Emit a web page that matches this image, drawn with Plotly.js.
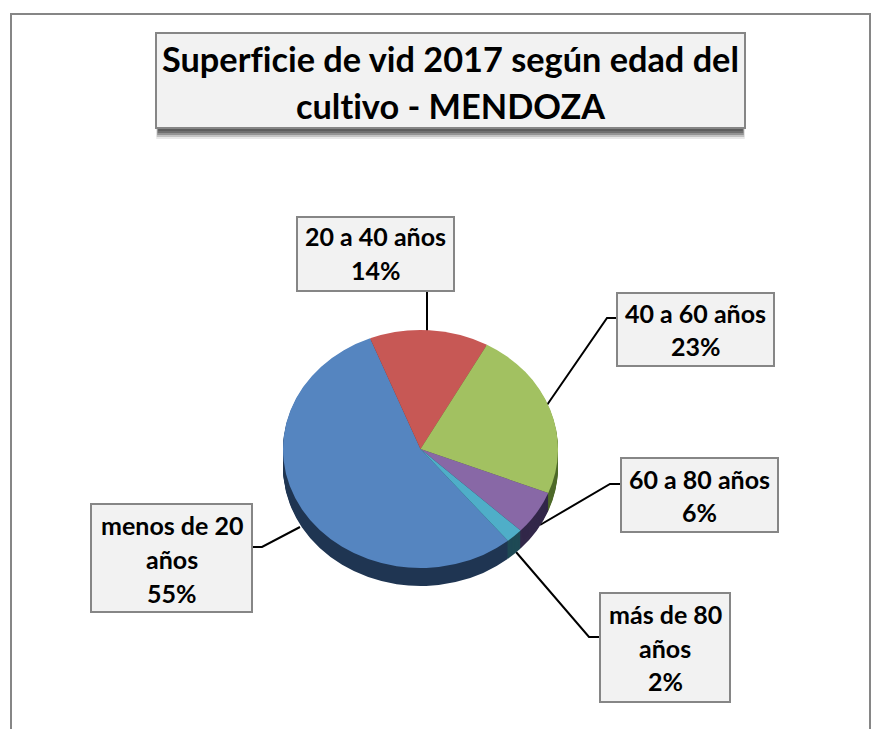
<!DOCTYPE html>
<html><head><meta charset="utf-8">
<script src="https://cdn.plot.ly/plotly-3.0.1.min.js"></script>
<style>html,body{margin:0;padding:0;background:#fff}
svg text,svg tspan{font-variant-ligatures:none !important;font-feature-settings:"liga" 0,"clig" 0 !important;text-rendering:optimizeSpeed !important}</style></head>
<body><div id="chart" style="width:873px;height:729px"></div>
<script>
const categories = ['menos de 20 años','20 a 40 años','40 a 60 años','60 a 80 años','más de 80 años'];
const values = [55,14,23,6,2];
const topColors = ['#5585C0','#C75855','#A2C161','#8868A6','#4FAEC8'];
const sideColors = ['#1F3552','#6B2C2A','#4F6B2A','#33284A','#1F4A55'];
const labelLines = [['menos de 20','años'],['20 a 40 años'],['40 a 60 años'],['60 a 80 años'],['más de 80','años']];
const titleText = 'Superficie de vid 2017 según edad del<br>cultivo - MENDOZA';

const W=873,H=729;
const X=x=>x/W, Y=y=>1-y/H;
const cx=420.5, cy=449, rx=137.5, ry=119, depth=18, k=ry/rx;
const font='Lato, Carlito, sans-serif';

// label box [left, top, right, bottom], first line centre, line step, leader path
const boxes=[
 {b:[91,504,252,612], l0:525, step:34, lead:[[252,547],[262,547],[300,527]]},
 {b:[297,217,454,291], l0:236, step:34, lead:[[427,291],[427,331]]},
 {b:[617,293,774,366], l0:313, step:33, lead:[[617,318],[607,318],[547,405]]},
 {b:[621,458,778,532], l0:479, step:33, lead:[[621,484],[610,484],[540,525]]},
 {b:[600,593,730,702], l0:614, step:33.5, lead:[[600,637],[589,637],[516,552]]}
];

const traces=[];
const pie=(off,colors)=>({type:'pie',values:values,labels:categories,sort:false,direction:'clockwise',rotation:140.5,
  textinfo:'none',hoverinfo:'skip',showlegend:false,marker:{colors:colors,line:{width:0}},
  domain:{x:[X(cx-rx),X(cx+rx)],y:[Y(cy+off+rx),Y(cy+off-rx)]}});
for(let d=depth;d>=1;d--) traces.push(pie(d/k,sideColors));
traces.push(pie(0,topColors));

const rect=(x0,y0,x1,y1,fill,line,lw)=>({type:'rect',xref:'paper',yref:'paper',layer:'below',
  x0:X(x0),x1:X(x1),y0:Y(y1),y1:Y(y0),fillcolor:fill,line:{color:line,width:lw}});
const shapes=[];
// outer frame, open at the bottom of the picture
shapes.push({type:'path',xref:'paper',yref:'paper',layer:'below',
  path:`M ${X(11)} ${Y(740)} L ${X(11)} ${Y(14)} L ${X(870)} ${Y(14)} L ${X(870)} ${Y(740)}`,
  line:{color:'#868686',width:2}});
// title shadow and box
[[11,0.12],[9,0.24],[7,0.38],[5,0.45],[3,0.45]].forEach(([g,a])=>shapes.push(rect(156+(3-g/4),120,745-(3-g/4),128+g,`rgba(70,70,70,${a})`,'rgba(0,0,0,0)',0)));
shapes.push(rect(156,33,745,128,'#F2F2F2','#868686',2));
// leaders
boxes.forEach(o=>shapes.push({type:'path',xref:'paper',yref:'paper',layer:'below',
  path:o.lead.map((p,i)=>(i?'L ':'M ')+X(p[0])+' '+Y(p[1])).join(' '),line:{color:'#000',width:2}}));
// label boxes
const annotations=[];
boxes.forEach((o,i)=>{
  shapes.push(rect(o.b[0],o.b[1],o.b[2],o.b[3],'#F2F2F2','#868686',2));
  const lines=labelLines[i].concat([values[i]+'%']);
  lines.forEach((t,j)=>annotations.push({xref:'paper',yref:'paper',x:X((o.b[0]+o.b[2])/2),y:Y(o.l0+j*o.step),
    xanchor:'center',yanchor:'middle',showarrow:false,text:t,font:{family:font,size:25,color:'#000',weight:700}}));
});

const layout={width:W,height:H,margin:{l:0,r:0,t:0,b:0},paper_bgcolor:'#fff',showlegend:false,
  title:{text:titleText,x:X(450.5),xanchor:'center',y:Y(72),yanchor:'middle',
    font:{family:font,size:34.3,color:'#000',weight:700}},
  shapes:shapes,annotations:annotations};

Plotly.newPlot('chart',traces,layout,{displayModeBar:false,staticPlot:true}).then(gd=>{
  const svg=gd.querySelector('svg.main-svg');
  const ns='http://www.w3.org/2000/svg';
  const defs=svg.querySelector('defs')||svg.insertBefore(document.createElementNS(ns,'defs'),svg.firstChild);
  const g=document.createElementNS(ns,'linearGradient');
  g.setAttribute('id','blueSide');g.setAttribute('gradientUnits','userSpaceOnUse');
  g.setAttribute('x1',-rx);g.setAttribute('x2',-10);g.setAttribute('y1',0);g.setAttribute('y2',0);
  [['0','#426A98'],['1','#1F3552']].forEach(([o,c])=>{const s=document.createElementNS(ns,'stop');
    s.setAttribute('offset',o);s.setAttribute('stop-color',c);g.appendChild(s);});
  defs.appendChild(g);
  const layer=gd.querySelector('.pielayer');
  layer.setAttribute('transform',`translate(0,${cy}) scale(1,${k}) translate(0,${-cy})`);
  const tr=layer.querySelectorAll('.trace');
  tr.forEach((t,i)=>{ if(i<tr.length-1){const p=t.querySelector('.slice path');if(p)p.style.fill='url(#blueSide)';}});
  const tl=gd.querySelectorAll('.gtitle tspan.line');
  if(tl.length>1) tl[1].setAttribute('dy','47px');
});
</script></body></html>
